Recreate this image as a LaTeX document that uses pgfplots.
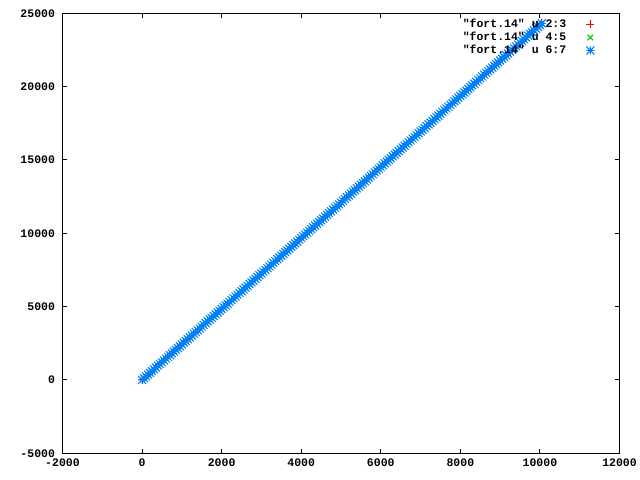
\documentclass[border=0pt]{standalone}
\usepackage{pgfplots}
\pgfplotsset{compat=1.18}
\usepackage{pgfplotstable}
\usepackage{fontspec}
\setmainfont{Liberation Mono}[Ligatures=TeXOff]
\definecolor{gpred}{RGB}{255,0,0}
\definecolor{gpgreen}{RGB}{0,192,0}
\definecolor{gpblue}{RGB}{0,128,255}
\newcommand{\dq}{\char34\relax}
\pgfdeclareplotmark{gpstar}{%
  \pgfpathmoveto{\pgfqpoint{-\pgfplotmarksize}{0pt}}%
  \pgfpathlineto{\pgfqpoint{\pgfplotmarksize}{0pt}}%
  \pgfpathmoveto{\pgfqpoint{0pt}{-\pgfplotmarksize}}%
  \pgfpathlineto{\pgfqpoint{0pt}{\pgfplotmarksize}}%
  \pgfpathmoveto{\pgfqpoint{-\pgfplotmarksize}{-\pgfplotmarksize}}%
  \pgfpathlineto{\pgfqpoint{\pgfplotmarksize}{\pgfplotmarksize}}%
  \pgfpathmoveto{\pgfqpoint{-\pgfplotmarksize}{\pgfplotmarksize}}%
  \pgfpathlineto{\pgfqpoint{\pgfplotmarksize}{-\pgfplotmarksize}}%
  \pgfusepathqstroke}
\pgfplotstableread{
x y
0 0
50 121
100 242
150 363
200 484
250 605
300 726
350 847
400 968
450 1089
500 1210
550 1331
600 1452
650 1573
700 1694
750 1815
800 1936
850 2057
900 2178
950 2299
1000 2420
1050 2541
1100 2662
1150 2783
1200 2904
1250 3025
1300 3146
1350 3267
1400 3388
1450 3509
1500 3630
1550 3751
1600 3872
1650 3993
1700 4114
1750 4235
1800 4356
1850 4477
1900 4598
1950 4719
2000 4840
2050 4961
2100 5082
2150 5203
2200 5324
2250 5445
2300 5566
2350 5687
2400 5808
2450 5929
2500 6050
2550 6171
2600 6292
2650 6413
2700 6534
2750 6655
2800 6776
2850 6897
2900 7018
2950 7139
3000 7260
3050 7381
3100 7502
3150 7623
3200 7744
3250 7865
3300 7986
3350 8107
3400 8228
3450 8349
3500 8470
3550 8591
3600 8712
3650 8833
3700 8954
3750 9075
3800 9196
3850 9317
3900 9438
3950 9559
4000 9680
4050 9801
4100 9922
4150 10043
4200 10164
4250 10285
4300 10406
4350 10527
4400 10648
4450 10769
4500 10890
4550 11011
4600 11132
4650 11253
4700 11374
4750 11495
4800 11616
4850 11737
4900 11858
4950 11979
5000 12100
5050 12221
5100 12342
5150 12463
5200 12584
5250 12705
5300 12826
5350 12947
5400 13068
5450 13189
5500 13310
5550 13431
5600 13552
5650 13673
5700 13794
5750 13915
5800 14036
5850 14157
5900 14278
5950 14399
6000 14520
6050 14641
6100 14762
6150 14883
6200 15004
6250 15125
6300 15246
6350 15367
6400 15488
6450 15609
6500 15730
6550 15851
6600 15972
6650 16093
6700 16214
6750 16335
6800 16456
6850 16577
6900 16698
6950 16819
7000 16940
7050 17061
7100 17182
7150 17303
7200 17424
7250 17545
7300 17666
7350 17787
7400 17908
7450 18029
7500 18150
7550 18271
7600 18392
7650 18513
7700 18634
7750 18755
7800 18876
7850 18997
7900 19118
7950 19239
8000 19360
8050 19481
8100 19602
8150 19723
8200 19844
8250 19965
8300 20086
8350 20207
8400 20328
8450 20449
8500 20570
8550 20691
8600 20812
8650 20933
8700 21054
8750 21175
8800 21296
8850 21417
8900 21538
8950 21659
9000 21780
9050 21901
9100 22022
9150 22143
9200 22264
9250 22385
9300 22506
9350 22627
9400 22748
9450 22869
9500 22990
9550 23111
9600 23232
9650 23353
9700 23474
9750 23595
9800 23716
9850 23837
9900 23958
9950 24079
10000 24200
10050 24321
}\datatable
\begin{document}
\begin{tikzpicture}[font=\fontsize{11.5bp}{13bp}\selectfont\bfseries]
\path[use as bounding box] (-62.5bp,-26.7bp) rectangle (577.5bp,453.3bp);
\begin{axis}[
  at={(0,0)}, anchor=south west,
  scale only axis,
  width=557bp, height=440bp,
  xmin=-2000, xmax=12000, ymin=-5000, ymax=25000,
  xtick={-2000,0,...,12000},
  ytick={-5000,0,...,25000},
  scaled ticks=false,
  /pgf/number format/assume math mode=true,
  /pgf/number format/1000 sep={},
  tick align=inside,
  xtick pos=both, ytick pos=both,
  major tick length=4.5bp,
  axis line style={line width=1bp, black},
  tick style={line width=1bp, black},
  yticklabel style={xshift=-4bp},
  xticklabel style={yshift=-2bp},
  legend style={draw=none, fill=none, at={(1,1)}, anchor=north east,
    xshift=-22bp, yshift=-3bp,
    legend cell align=right,
    nodes={inner sep=1bp, text height=8bp, text depth=2bp},
    row sep=1bp,
    font=\fontsize{11.5bp}{13bp}\selectfont\bfseries},
  legend plot pos=right,
  legend image code/.code={\path[draw=none,fill=none] (0bp,0bp) -- (23bp,0bp);\draw[#1] plot coordinates {(23bp,0bp)};},
]
\addplot[only marks, mark=+, mark size=4bp, gpred, line width=1bp] table[x=x,y=y] {\datatable};
\addlegendentry{\dq fort.14\dq{} u 2:3}
\addplot[only marks, mark=x, mark size=4bp, gpgreen, line width=1bp] table[x=x,y=y] {\datatable};
\addlegendentry{\dq fort.14\dq{} u 4:5}
\addplot[only marks, mark=gpstar, mark size=4bp, gpblue, line width=1bp] table[x=x,y=y] {\datatable};
\addlegendentry{\dq fort.14\dq{} u 6:7}
\end{axis}
\end{tikzpicture}
\end{document}
